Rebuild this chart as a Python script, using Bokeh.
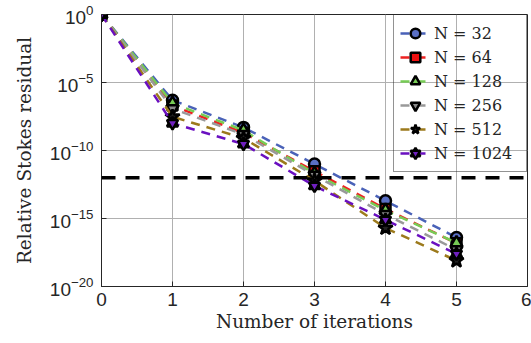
from bokeh.plotting import figure
from bokeh.models import Span, FixedTicker, LogTickFormatter, Legend, LegendItem
from bokeh.embed import file_html
from bokeh.resources import INLINE

iterations = [0, 1, 2, 3, 4, 5]
res_32 = [1, 5e-7, 5e-9, 1e-11, 2e-14, 4e-17]
res_64 = [1, 2e-7, 2e-9, 3e-12, 5e-15, 1.5e-17]
res_128 = [1, 3e-7, 3e-9, 2e-12, 4e-15, 1.6e-17]
res_256 = [1, 1.2e-7, 1.5e-9, 1.5e-12, 2e-15, 5e-18]
res_512 = [1, 3e-8, 8e-10, 6e-13, 2e-16, 8e-19]
res_1024 = [1, 1e-8, 3e-10, 2.5e-13, 8e-16, 2.5e-18]
threshold = 1e-12
labels = ["N = 32", "N = 64", "N = 128", "N = 256", "N = 512", "N = 1024"]
y_ticks = [1e-20, 1e-15, 1e-10, 1e-5, 1e0]
x_ticks = [0, 1, 2, 3, 4, 5, 6]

series = [res_32, res_64, res_128, res_256, res_512, res_1024]
line_colors = ["#4a62b8", "#ee2222", "#77cc55", "#999999", "#9c7a1c", "#6a10c0"]
fill_colors = ["#5a6fc4", "#ee1111", "#77cc55", "#888888", "#222222", "#7020c0"]
markers = [["circle"], ["square"], ["triangle"], ["inverted_triangle"], ["star"],
           ["triangle", "inverted_triangle"]]
sizes = [11, 10, 12, 12, 15, 11]

TXT = "#262626"

p = figure(width=531, height=343, y_axis_type="log",
           x_range=(0, 6), y_range=(1e-20, 1e0),
           output_backend="svg", toolbar_location=None,
           min_border_left=101, min_border_right=4,
           min_border_top=14, min_border_bottom=57)

p.outline_line_color = TXT
p.outline_line_width = 1
p.background_fill_color = "white"

p.xaxis.ticker = FixedTicker(ticks=x_ticks)
p.yaxis.ticker = FixedTicker(ticks=y_ticks)
p.yaxis.formatter = LogTickFormatter()

for ax in [p.xaxis[0], p.yaxis[0]]:
    ax.major_tick_in = 5
    ax.major_tick_out = 0
    ax.minor_tick_in = 0
    ax.minor_tick_out = 0
    ax.axis_line_color = TXT
    ax.major_tick_line_color = TXT
    ax.major_label_text_font = "Liberation Sans"
    ax.major_label_text_font_size = "19px"
    ax.major_label_text_color = TXT
    ax.axis_label_text_font = "DejaVu Serif"
    ax.axis_label_text_font_style = "normal"
    ax.axis_label_text_font_size = "18.5px"
    ax.axis_label_text_color = TXT

p.xaxis.axis_label = "Number of iterations"
p.yaxis.axis_label = "Relative Stokes residual"
p.xaxis.major_label_standoff = 6
p.yaxis.major_label_standoff = 8
p.xaxis.axis_label_standoff = 2
p.yaxis.axis_label_standoff = 12

p.xgrid.grid_line_color = "#b0b0b0"
p.ygrid.grid_line_color = "#b0b0b0"
p.xgrid.grid_line_width = 1
p.ygrid.grid_line_width = 1

thr = Span(location=threshold, dimension="width", line_color="black",
           line_width=3.5, line_dash="14 10")
p.add_layout(thr)

items = []
for ys, lc, fc, mks, sz, lab in zip(series, line_colors, fill_colors, markers, sizes, labels):
    rs = [p.line(iterations, ys, line_color=lc, line_width=2.5, line_dash="9 7")]
    for mk in mks:
        rs.append(p.scatter(iterations, ys, marker=mk, size=sz, fill_color=fc,
                            line_color="black", line_width=2.5))
    items.append(LegendItem(label=lab, renderers=rs))

legend = Legend(items=items, location="top_right")
legend.label_text_font = "DejaVu Serif"
legend.label_text_font_size = "16px"
legend.label_text_color = TXT
legend.border_line_color = TXT
legend.border_line_width = 1
legend.background_fill_alpha = 0
legend.margin = 0
legend.padding = 6
legend.spacing = 0
legend.glyph_width = 30
legend.glyph_height = 24
legend.label_height = 20
legend.label_standoff = 4
legend.label_width = 86
p.add_layout(legend)

open("out.html", "w").write(file_html(p, INLINE))
